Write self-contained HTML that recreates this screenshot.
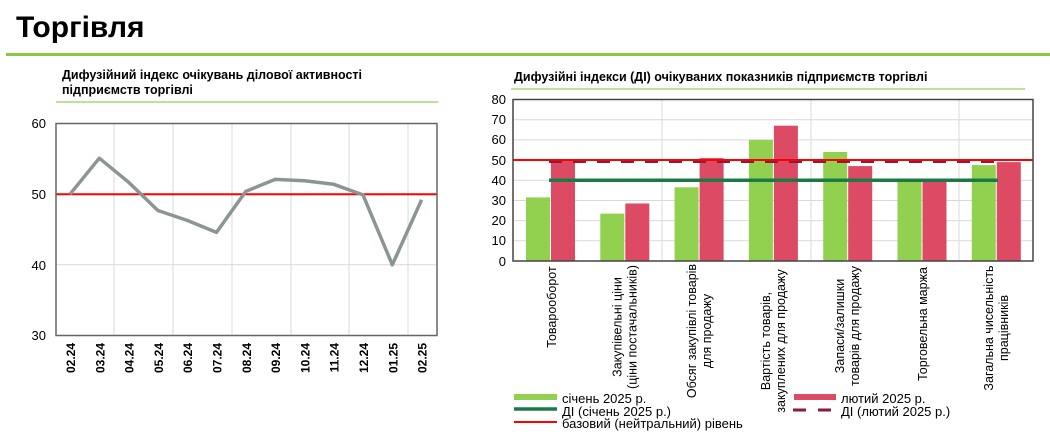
<!DOCTYPE html>
<html><head><meta charset="utf-8"><style>
html,body{margin:0;padding:0;background:#fff;}
svg{display:block;font-family:"Liberation Sans",sans-serif;}
</style></head><body>
<svg width="1050" height="443" viewBox="0 0 1050 443" xmlns="http://www.w3.org/2000/svg">
<text x="16" y="37" font-size="30" font-weight="bold" fill="#000">Торгівля</text>
<rect x="6" y="53" width="1044" height="3" fill="#8dc63f"/>

<!-- Left chart -->
<text x="62" y="79" font-size="12.5" font-weight="bold">Дифузійний індекс очікувань ділової активності</text>
<text x="62" y="94" font-size="12.5" font-weight="bold">підприємств торгівлі</text>
<line x1="56" y1="102" x2="438" y2="102" stroke="#a8d67a" stroke-width="1.5"/>
<g stroke="#d9d9d9" stroke-width="1">
<line x1="114" y1="123.5" x2="114" y2="335.5"/><line x1="173" y1="123.5" x2="173" y2="335.5"/>
<line x1="232" y1="123.5" x2="232" y2="335.5"/><line x1="291" y1="123.5" x2="291" y2="335.5"/>
<line x1="349" y1="123.5" x2="349" y2="335.5"/><line x1="408" y1="123.5" x2="408" y2="335.5"/>
<line x1="56" y1="264.8" x2="437" y2="264.8"/>
</g>
<line x1="56" y1="194.2" x2="437" y2="194.2" stroke="#ff0000" stroke-width="2"/>
<rect x="56" y="123.5" width="381" height="212" fill="none" stroke="#666" stroke-width="1.5"/>
<g font-size="13" text-anchor="end" fill="#000">
<text x="46" y="128">60</text><text x="46" y="199">50</text><text x="46" y="270">40</text><text x="46" y="340">30</text>
</g>
<polyline fill="none" stroke="#8c9595" stroke-width="3.5" stroke-linejoin="round" points="70,194.2 99.3,158.2 128.6,182.2 157.9,210.5 187.2,220.4 216.5,232.4 245.8,191.4 275.1,179.4 304.4,180.8 333.7,184.3 363,194.9 392.3,264.8 421.6,199.8"/>
<g font-size="12" font-weight="bold" text-anchor="end">
<text transform="translate(75,343) rotate(-90)">02.24</text>
<text transform="translate(104.3,343) rotate(-90)">03.24</text>
<text transform="translate(133.6,343) rotate(-90)">04.24</text>
<text transform="translate(162.9,343) rotate(-90)">05.24</text>
<text transform="translate(192.2,343) rotate(-90)">06.24</text>
<text transform="translate(221.5,343) rotate(-90)">07.24</text>
<text transform="translate(250.8,343) rotate(-90)">08.24</text>
<text transform="translate(280.1,343) rotate(-90)">09.24</text>
<text transform="translate(309.4,343) rotate(-90)">10.24</text>
<text transform="translate(338.7,343) rotate(-90)">11.24</text>
<text transform="translate(368,343) rotate(-90)">12.24</text>
<text transform="translate(397.3,343) rotate(-90)">01.25</text>
<text transform="translate(426.6,343) rotate(-90)">02.25</text>
</g>

<!-- Right chart -->
<text x="514" y="81" font-size="12.5" font-weight="bold">Дифузійні індекси (ДІ) очікуваних показників підприємств торгівлі</text>
<line x1="511" y1="89" x2="1025" y2="89" stroke="#a8d67a" stroke-width="1.5"/>
<g stroke="#d9d9d9" stroke-width="1">
<line x1="513" y1="119.7" x2="1033" y2="119.7"/><line x1="513" y1="139.9" x2="1033" y2="139.9"/>
<line x1="513" y1="160.1" x2="1033" y2="160.1"/><line x1="513" y1="180.3" x2="1033" y2="180.3"/>
<line x1="513" y1="200.5" x2="1033" y2="200.5"/><line x1="513" y1="220.6" x2="1033" y2="220.6"/>
<line x1="513" y1="240.8" x2="1033" y2="240.8"/>
<line x1="662" y1="99.5" x2="662" y2="261"/><line x1="811" y1="99.5" x2="811" y2="261"/><line x1="959" y1="99.5" x2="959" y2="261"/>
</g>
<g fill="#92d050">
<rect x="526" y="197.4" width="24" height="63.6"/>
<rect x="600.3" y="213.6" width="24" height="47.4"/>
<rect x="674.6" y="187.3" width="24" height="73.7"/>
<rect x="748.9" y="139.9" width="24" height="121.1"/>
<rect x="823.2" y="152" width="24" height="109"/>
<rect x="897.5" y="180.3" width="24" height="80.7"/>
<rect x="971.8" y="165.1" width="24" height="95.9"/>
</g>
<g fill="#dc4a63">
<rect x="551" y="160.1" width="24" height="100.9"/>
<rect x="625.3" y="203.5" width="24" height="57.5"/>
<rect x="699.6" y="158.1" width="24" height="102.9"/>
<rect x="773.9" y="125.7" width="24" height="135.3"/>
<rect x="848.2" y="166.1" width="24" height="94.9"/>
<rect x="922.5" y="180.3" width="24" height="80.7"/>
<rect x="996.8" y="162.1" width="24" height="98.9"/>
</g>
<line x1="549" y1="161.5" x2="996" y2="161.5" stroke="#8b1a3f" stroke-width="3" stroke-dasharray="13,11"/>
<line x1="549" y1="180.3" x2="998" y2="180.3" stroke="#1a7a45" stroke-width="3.5"/>
<line x1="513" y1="160" x2="1033" y2="160" stroke="#ff0000" stroke-width="2"/>
<rect x="513" y="99.5" width="520" height="161.5" fill="none" stroke="#444" stroke-width="1.5"/>
<g font-size="13" text-anchor="end">
<text x="506" y="104">80</text><text x="506" y="124">70</text><text x="506" y="144">60</text><text x="506" y="165">50</text>
<text x="506" y="185">40</text><text x="506" y="205">30</text><text x="506" y="225">20</text><text x="506" y="245">10</text><text x="506" y="266">0</text>
</g>
<g font-size="12.5" text-anchor="middle" dominant-baseline="central">
<text transform="translate(552,307) rotate(-90)">Товарооборот</text>
<text transform="translate(617.5,327) rotate(-90)">Закупівельні ціни</text>
<text transform="translate(632.5,327) rotate(-90)">(ціни постачальників)</text>
<text transform="translate(692,331) rotate(-90)">Обсяг закупівлі товарів</text>
<text transform="translate(707,331) rotate(-90)">для продажу</text>
<text transform="translate(766,341) rotate(-90)">Вартість товарів,</text>
<text transform="translate(781,341) rotate(-90)">закуплених для продажу</text>
<text transform="translate(840,326) rotate(-90)">Запаси/залишки</text>
<text transform="translate(855,326) rotate(-90)">товарів для продажу</text>
<text transform="translate(923,324) rotate(-90)">Торговельна маржа</text>
<text transform="translate(989,328) rotate(-90)">Загальна чисельність</text>
<text transform="translate(1004,328) rotate(-90)">працівників</text>
</g>
<g font-size="13">
<rect x="514" y="394" width="43" height="6" fill="#92d050"/>
<text x="562" y="403">січень 2025 р.</text>
<line x1="514" y1="409" x2="557" y2="409" stroke="#1a7a45" stroke-width="3.5"/>
<text x="562" y="416">ДІ (січень 2025 р.)</text>
<line x1="514" y1="422" x2="557" y2="422" stroke="#ff0000" stroke-width="2"/>
<text x="562" y="428">базовий (нейтральний) рівень</text>
<rect x="794" y="394" width="42" height="6" fill="#dc4a63"/>
<text x="841" y="403">лютий 2025 р.</text>
<line x1="793" y1="410" x2="831" y2="410" stroke="#8b1a3f" stroke-width="3" stroke-dasharray="13,12"/>
<text x="841" y="416">ДІ (лютий 2025 р.)</text>
</g>
</svg>
</body></html>
